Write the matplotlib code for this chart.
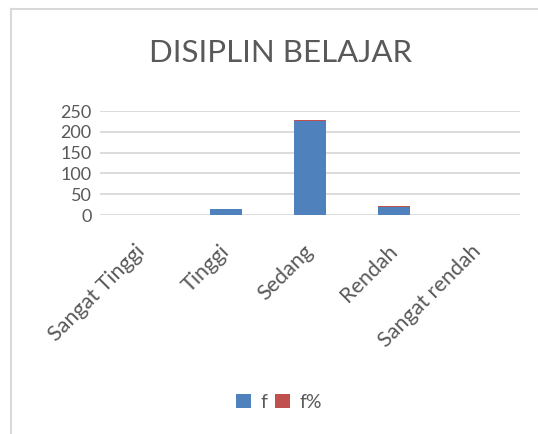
import numpy as np
import matplotlib.pyplot as plt
import matplotlib.transforms as mtransforms

categories = ["Sangat Tinggi", "Tinggi", "Sedang", "Rendah", "Sangat rendah"]
f_values = [0, 14, 226, 20, 0]
fpct_values = [0, 1.5, 2, 1.5, 0]
y_ticks = [0, 50, 100, 150, 200, 250]

plt.rcParams['font.family'] = ['Lato', 'DejaVu Sans']

fig = plt.figure(figsize=(5.38, 4.34), dpi=100)
W, H = 538, 434
ax = fig.add_axes([100 / W, 1 - 215 / H, 420 / W, 104 / H])

x = np.arange(len(categories))
ax.bar(x, f_values, 0.39, color='#4F81BD', label='f', zorder=3)
ax.bar(x, fpct_values, 0.39, bottom=f_values, color='#C0504D', label='f%', zorder=3)

ax.set_xlim(-0.5, len(categories) - 0.5)
ax.set_ylim(0, 250)
ax.set_yticks(y_ticks)
ax.set_xticks(x)
ax.set_xticklabels(categories, rotation=45, ha='right', va='center', rotation_mode='anchor')
ax.tick_params(axis='y', length=0, labelsize=13, colors='#595959', pad=6)
ax.tick_params(axis='x', length=0, labelsize=15.5, colors='#595959', pad=24)
# nudge rotated labels a little, like the original
offset = mtransforms.ScaledTranslation(0, 0, fig.dpi_scale_trans)
for lab in ax.get_xticklabels():
    lab.set_transform(lab.get_transform() + offset)
for s in ax.spines.values():
    s.set_visible(False)
ax.yaxis.grid(True, color='#D9D9D9', linewidth=1.3, zorder=0)
ax.set_axisbelow(True)

fig.text(281 / W, 1 - 53 / H, "DISIPLIN BELAJAR", ha='center', va='center',
         fontsize=22.5, color='#595959')

fig.legend(loc='center', bbox_to_anchor=(279 / W, 1 - 402 / H), ncol=2, frameon=False,
           fontsize=14, handlelength=0.75, handleheight=0.75, columnspacing=0.4,
           handletextpad=0.5, labelcolor='#595959')

# chart frame (left and top edges)
fig.add_artist(plt.Line2D([11 / W, 11 / W], [0, 1 - 9 / H], color='#D9D9D9', linewidth=1.5))
fig.add_artist(plt.Line2D([11 / W, 1], [1 - 9 / H, 1 - 9 / H], color='#D9D9D9', linewidth=1.5))

fig.savefig("out.png", dpi=100)
